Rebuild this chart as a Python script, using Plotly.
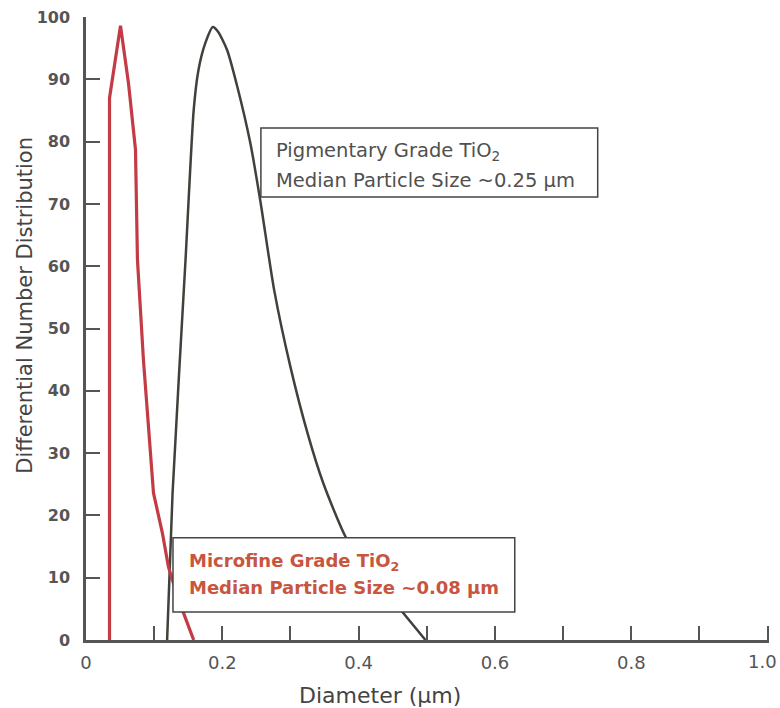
import plotly.graph_objects as go

# Microfine grade TiO2 (red curve)
micro_x = [0.0345, 0.0345, 0.0506, 0.0623, 0.0726, 0.0755, 0.0843, 0.0916, 0.099, 0.112, 0.121, 0.136, 0.158]
micro_y = [0, 87, 98.6, 89.4, 78.7, 61, 44.9, 34.2, 23.6, 17.2, 11.7, 6.4, 0]

# Pigmentary grade TiO2 (gray curve)
pig_x = [0.119, 0.127, 0.146, 0.158, 0.165, 0.175, 0.186, 0.194, 0.207, 0.222, 0.241,
         0.256, 0.276, 0.300, 0.325, 0.348, 0.383, 0.436, 0.498]
pig_y = [0, 23.6, 61, 85.1, 91.5, 95.8, 98.4, 97.6, 94.7, 88.8, 79.8,
         70.3, 56.2, 43.8, 33.2, 25.2, 16.1, 8.3, 0]

x_tick_vals = [0, 0.2, 0.4, 0.6, 0.8, 1.0]
x_tick_text = ["0", "0.2", "0.4", "0.6", "0.8", "1.0"]
y_tick_vals = [0, 10, 20, 30, 40, 50, 60, 70, 80, 90, 100]

GRAY = "#3f413a"
RED = "#c23b45"
LABEL = "#555555"
FONT = "DejaVu Sans"

fig = go.Figure()
fig.add_trace(go.Scatter(x=pig_x, y=pig_y, mode="lines",
                         line=dict(color=GRAY, width=2.5, shape="spline", smoothing=0.6),
                         showlegend=False))
fig.add_trace(go.Scatter(x=micro_x, y=micro_y, mode="lines",
                         line=dict(color=RED, width=3.2), showlegend=False))

# annotation boxes
fig.add_shape(type="rect", x0=0.2566, x1=0.7507, y0=71.1, y1=82.2, xref="x", yref="y",
              line=dict(color="#444", width=1.5), fillcolor="white", layer="above")
fig.add_shape(type="rect", x0=0.1276, x1=0.629, y0=4.5, y1=16.4, xref="x", yref="y",
              line=dict(color="#444", width=1.5), fillcolor="white", layer="above")

box1_lines = ["Pigmentary Grade TiO<sub>2</sub>", "Median Particle Size ~0.25 µm"]
box2_lines = ["Microfine Grade TiO<sub>2</sub>", "Median Particle Size ~0.08 µm"]
for txt, yy in zip(box1_lines, [78.4, 73.8]):
    fig.add_annotation(x=0.2757, y=yy, xref="x", yref="y", text=txt, showarrow=False,
                       xanchor="left", yanchor="middle",
                       font=dict(family=FONT, size=19.5, color="#505050"))
for txt, yy in zip(box2_lines, [12.6, 8.4]):
    fig.add_annotation(x=0.148, y=yy, xref="x", yref="y", text="<b>" + txt + "</b>", showarrow=False,
                       xanchor="left", yanchor="middle",
                       font=dict(family=FONT, size=18, color="#c8553d"))

# last x tick label (kept inside the page edge)
fig.add_annotation(x=x_tick_vals[-1], y=-0.0353, xref="x", yref="paper", text=x_tick_text[-1],
                   showarrow=False, xanchor="right", yanchor="middle", xshift=11,
                   font=dict(family=FONT, size=18, color=LABEL))

# axis titles
fig.add_annotation(x=0.431, y=-0.0883, xref="x", yref="paper", text="Diameter (µm)",
                   showarrow=False, xanchor="center", yanchor="middle",
                   font=dict(family=FONT, size=22, color="#444"))
fig.add_annotation(x=-0.0894, y=53.8, xref="paper", yref="y", text="Differential Number Distribution",
                   showarrow=False, xanchor="center", yanchor="middle", textangle=-90,
                   font=dict(family=FONT, size=21, color="#444"))

fig.update_xaxes(range=[0, 1.002], showline=True, linecolor="#555", linewidth=2.5,
                 tickmode="array", tickvals=x_tick_vals[:-1], ticktext=x_tick_text[:-1],
                 ticks="inside", ticklen=14, tickwidth=1.5, tickcolor="#555",
                 minor=dict(ticks="inside", dtick=0.1, tick0=0, ticklen=14, tickwidth=1.5, tickcolor="#555"),
                 showgrid=False, zeroline=False, ticklabelstandoff=5, automargin=False,
                 tickfont=dict(family=FONT, size=18, color=LABEL))
fig.update_yaxes(range=[0, 100], showline=True, linecolor="#555", linewidth=2.5,
                 tickmode="array", tickvals=y_tick_vals,
                 ticks="inside", ticklen=14, tickwidth=1.5, tickcolor="#555",
                 showgrid=False, zeroline=False, ticklabelstandoff=10, automargin=False,
                 tickfont=dict(family=FONT, size=16, color=LABEL, weight="bold"))

fig.update_layout(width=780, height=708, margin=dict(l=86, r=11, t=17, b=68),
                  plot_bgcolor="white", paper_bgcolor="white")

fig.write_html("out.html")
